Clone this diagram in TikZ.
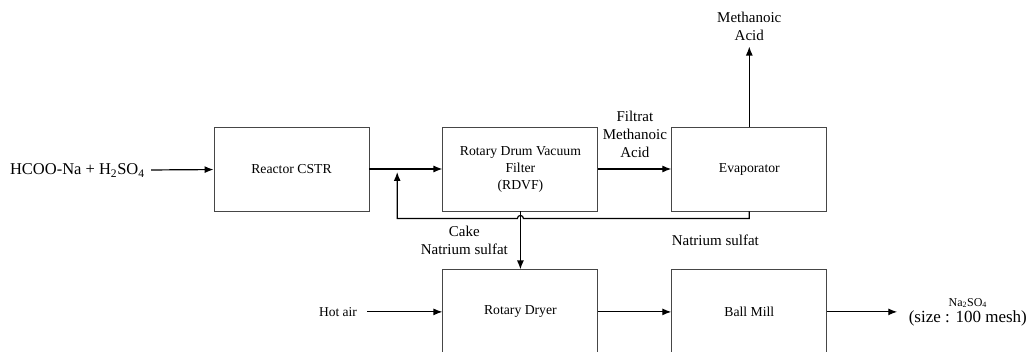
\documentclass[tikz,border=0pt]{standalone}
\usepackage{fontspec}
\setmainfont{Liberation Serif}
\usetikzlibrary{arrows.meta,positioning,calc}
\definecolor{flowBoxGray}{RGB}{70,70,70}

\begin{document}
\begin{tikzpicture}[
  x=1pt,y=1pt,
  unitbox/.style={
    draw=flowBoxGray,
    line width=0.9pt,
    minimum width=155pt,
    minimum height=84pt,
    align=center,
    font=\fontsize{13.7}{17}\selectfont
  },
  streamlabel/.style={
    align=center,
    font=\fontsize{15}{18}\selectfont
  },
  arrow/.style={-{Latex[length=9pt,width=7pt]},line width=1.2pt}
]
  \useasboundingbox (0,0) rectangle (1027,352);
  % process units
  \node[unitbox] (reactor) at (291.5,183) {Reactor CSTR};
  \node[unitbox,right=73pt of reactor] (rdvf) {Rotary Drum Vacuum\\Filter\\(RDVF)};
  \node[unitbox,right=73pt of rdvf] (evap) {Evaporator};
  \node[unitbox,below=58pt of rdvf] (dryer) {Rotary Dryer};
  \node[unitbox,right=73pt of dryer] (mill) {Ball Mill};
  % streams in and out
  \node[anchor=west,font=\fontsize{16.5}{19}\selectfont] (feed) at (6.5,181.5) {HCOO-Na + H\textsubscript{2}SO\textsubscript{4}};
  \node[streamlabel,above=82pt of evap] (acid) {Methanoic\\Acid};
  \node[streamlabel,left=9pt] (cake) at ($(rdvf.south)!0.5!(dryer.north)$) {Cake\\Natrium sulfat};
  \node[streamlabel,below=20pt of evap,xshift=-34pt] (nasulfat) {Natrium sulfat};
  \node[font=\fontsize{13.5}{16}\selectfont,left=82pt of dryer] (hotair) {Hot air};
  \node[align=center,font=\fontsize{17}{16}\selectfont,right=78pt of mill] (product) {{\fontsize{12}{13}\selectfont Na\textsubscript{2}SO\textsubscript{4}}\\(size : 100 mesh)};
  \coordinate (rjoin) at ($(reactor.east)!0.38!(rdvf.west)+(0,-3)$);
  % connectors
  \draw[arrow,shorten <=3pt] (feed) -- (reactor);
  \draw[arrow] (reactor) -- (rdvf);
  \draw[arrow] (rdvf) -- node[streamlabel,above=7pt] (filtrat) {Filtrat\\Methanoic\\Acid} (evap);
  \draw[arrow,shorten >=2pt] (evap) -- (acid);
  \draw[arrow] (evap.south) -- ++(0,-7) coordinate (rbend)
    -- ($(rdvf.south |- rbend)+(3,0)$) arc[start angle=0,end angle=180,radius=3pt]
    -| (rjoin);
  \draw[arrow] (rdvf) -- (dryer);
  \draw[arrow,shorten <=7pt] (hotair) -- (dryer);
  \draw[arrow] (dryer) -- (mill);
  \draw[arrow,shorten >=8pt] (mill) -- (product);
\end{tikzpicture}
\end{document}
